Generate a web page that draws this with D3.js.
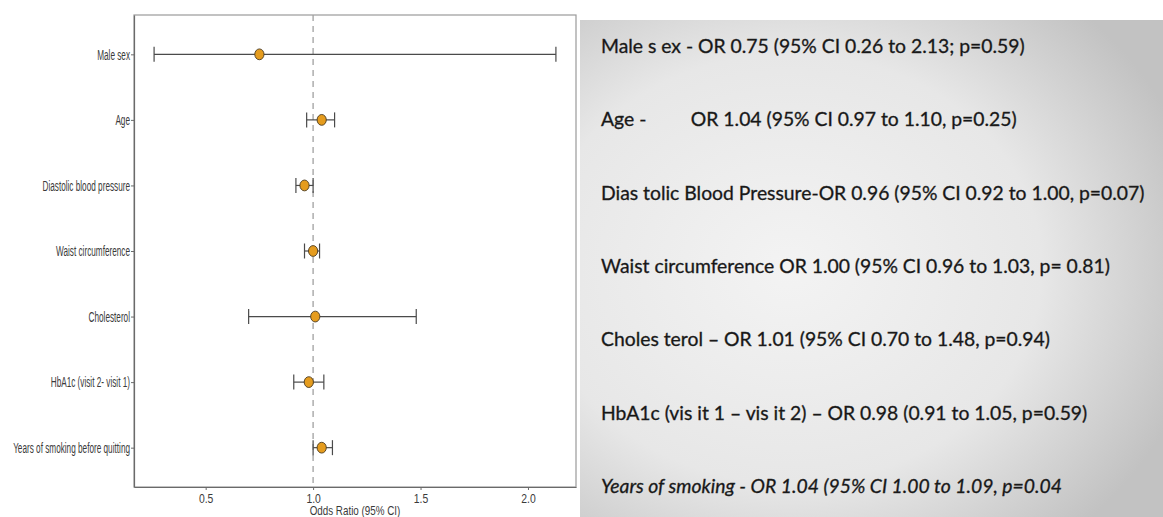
<!DOCTYPE html>
<html>
<head>
<meta charset="utf-8">
<script src="https://cdn.jsdelivr.net/npm/d3@7"></script>
<style>
  body { margin: 0; background: #fff; }
  svg { display: block; }
</style>
</head>
<body>
<div id="chart"></div>
<script>
// Forest plot data (top to bottom)
const factors = ["Male sex", "Age", "Diastolic blood pressure", "Waist circumference",
                 "Cholesterol", "HbA1c (visit 2- visit 1)", "Years of smoking before quitting"];
const oddsRatio = [0.75, 1.04, 0.96, 1.00, 1.01, 0.98, 1.04];
const ciLow     = [0.26, 0.97, 0.92, 0.96, 0.70, 0.91, 1.00];
const ciHigh    = [2.13, 1.10, 1.00, 1.03, 1.48, 1.05, 1.09];
const xTicks    = [0.5, 1.0, 1.5, 2.0];

// Summary text on the right
const summaryLines = [
    "Male s ex - OR 0.75 (95% CI 0.26 to 2.13; p=0.59)",
    "Age -         OR 1.04 (95% CI 0.97 to 1.10, p=0.25)",
    "Dias tolic Blood Pressure-OR 0.96 (95% CI 0.92 to 1.00, p=0.07)",
    "Waist circumference OR 1.00 (95% CI 0.96 to 1.03, p= 0.81)",
    "Choles terol \u2013 OR 1.01 (95% CI 0.70 to 1.48, p=0.94)",
    "HbA1c (vis it 1 \u2013 vis it 2) \u2013 OR 0.98 (0.91 to 1.05, p=0.59)",
    "Years of smoking - OR 1.04 (95% CI 1.00 to 1.09, p=0.04"
];

const data = factors.map((f, i) => ({ factor: f, or: oddsRatio[i], lo: ciLow[i], hi: ciHigh[i] }));

const W = 1163, H = 517;
const plot = { left: 134, right: 576, top: 15, bottom: 487 };
const narrowFont = "'Liberation Sans Narrow', 'Liberation Sans', Arial, sans-serif";

const svg = d3.select("#chart").append("svg")
    .attr("width", W)
    .attr("height", H);

// ggplot-like 5% expansion of x range
const xMin = d3.min(data, d => d.lo), xMax = d3.max(data, d => d.hi);
const pad = (xMax - xMin) * 0.05;
const x = d3.scaleLinear()
    .domain([xMin - pad, xMax + pad])
    .range([plot.left, plot.right]);

const y = d3.scalePoint()
    .domain(factors)
    .range([plot.top, plot.bottom])
    .padding(0.6);

// Panel border
svg.append("rect")
    .attr("x", plot.left)
    .attr("y", plot.top)
    .attr("width", plot.right - plot.left)
    .attr("height", plot.bottom - plot.top)
    .attr("fill", "#fff")
    .attr("stroke", "#9a9a9a")
    .attr("stroke-width", 1.2);

// Reference line at OR = 1
svg.append("line")
    .attr("x1", x(1)).attr("x2", x(1))
    .attr("y1", plot.top).attr("y2", plot.bottom)
    .attr("stroke", "#a0a0a0")
    .attr("stroke-width", 1.3)
    .attr("stroke-dasharray", "6,5");

// Axes
const xAxis = svg.append("g")
    .attr("transform", `translate(0,${plot.bottom})`)
    .call(d3.axisBottom(x).tickValues(xTicks).tickFormat(d3.format(".1f"))
        .tickSizeInner(3).tickSizeOuter(0).tickPadding(3));
const yAxis = svg.append("g")
    .attr("transform", `translate(${plot.left},0)`)
    .call(d3.axisLeft(y).tickSizeInner(3).tickSizeOuter(0).tickPadding(2));

[xAxis, yAxis].forEach(a => {
    a.select(".domain").attr("stroke", "#6a6a6a").attr("stroke-width", 1.2);
    a.selectAll(".tick line").attr("stroke", "#6a6a6a");
    a.selectAll("text")
        .attr("fill", "#3a3a3a")
        .style("font-family", narrowFont);
});

// squeeze the y labels horizontally like the narrow original
yAxis.selectAll(".tick text").style("font-size", "15px");
const longest = d3.max(yAxis.selectAll(".tick text").nodes(), n => n.getComputedTextLength());
const sx = 117 / longest;
yAxis.selectAll(".tick text")
    .attr("x", 0)
    .attr("transform", `translate(-4,0) scale(${sx},1)`);

xAxis.selectAll(".tick text")
    .style("font-size", "13px")
    .attr("transform", "scale(0.8,1.05)");

// Axis title (sits at the very bottom like the source)
svg.append("text")
    .attr("transform", `translate(${(plot.left + plot.right) / 2},${H - 2}) scale(0.82,1)`)
    .attr("text-anchor", "middle")
    .attr("fill", "#3a3a3a")
    .style("font-family", narrowFont)
    .style("font-size", "12px")
    .text("Odds Ratio (95% CI)");

// Error bars
const bars = svg.append("g").selectAll("g")
    .data(data)
    .enter()
    .append("g")
    .attr("stroke", "#4a4a4a")
    .attr("stroke-width", 1.2);

bars.append("line")
    .attr("x1", d => x(d.lo)).attr("x2", d => x(d.hi))
    .attr("y1", d => y(d.factor)).attr("y2", d => y(d.factor));
bars.append("line")
    .attr("x1", d => x(d.lo)).attr("x2", d => x(d.lo))
    .attr("y1", d => y(d.factor) - 7.5).attr("y2", d => y(d.factor) + 7.5);
bars.append("line")
    .attr("x1", d => x(d.hi)).attr("x2", d => x(d.hi))
    .attr("y1", d => y(d.factor) - 7.5).attr("y2", d => y(d.factor) + 7.5);

// Points
svg.append("g").selectAll("ellipse")
    .data(data)
    .enter()
    .append("ellipse")
    .attr("cx", d => x(d.or))
    .attr("cy", d => y(d.factor))
    .attr("rx", 4.6)
    .attr("ry", 5.4)
    .attr("fill", "#e59c1e")
    .attr("stroke", "#4a3a20")
    .attr("stroke-width", 0.9);

// Right-hand summary panel with gray gradient
const defs = svg.append("defs");
const grad = defs.append("radialGradient")
    .attr("id", "panelGrad")
    .attr("cx", "36%").attr("cy", "50%")
    .attr("r", "72%");
grad.append("stop").attr("offset", "0%").attr("stop-color", "#f3f3f3");
grad.append("stop").attr("offset", "60%").attr("stop-color", "#e7e7e7");
grad.append("stop").attr("offset", "100%").attr("stop-color", "#c2c2c2");

const panel = { left: 580, top: 20 };
svg.append("rect")
    .attr("x", panel.left)
    .attr("y", panel.top)
    .attr("width", W - panel.left)
    .attr("height", H - panel.top)
    .attr("fill", "url(#panelGrad)");

const lineY = d3.scalePoint()
    .domain(d3.range(summaryLines.length))
    .range([53, 493]);

const txt = svg.append("g").selectAll("text")
    .data(summaryLines)
    .enter()
    .append("text")
    .attr("y", (d, i) => lineY(i))
    .attr("fill", "#151515")
    .attr("stroke", "#2a2a2a")
    .attr("stroke-width", 0.35)
    .attr("xml:space", "preserve")
    .style("white-space", "pre")
    .style("font-family", "Lato, 'Open Sans', sans-serif")
    .style("font-size", "20px")
    .style("font-style", (d, i) => i === summaryLines.length - 1 ? "italic" : "normal")
    .text(d => d);

// fit horizontal scale so the widest line spans like the source
const wide = txt.nodes()[2].getComputedTextLength();
const tx = 544 / wide;
txt.attr("transform", `translate(601,0) scale(${tx},1)`)
   .attr("x", 0);
</script>
</body>
</html>
